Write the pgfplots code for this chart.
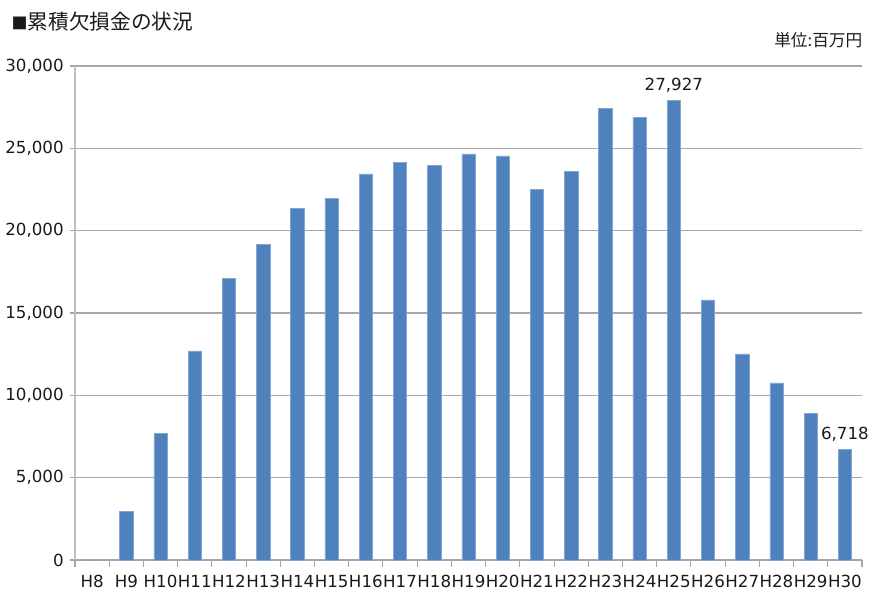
\documentclass[border=0pt]{standalone}
\usepackage{fontspec}
\setmainfont{DejaVu Sans}
\newfontfamily\cjk{Noto Sans CJK JP}
\usepackage{pgfplots}
\pgfplotsset{compat=1.18}
\definecolor{barblue}{HTML}{4F81BD}
\definecolor{gridgray}{HTML}{A6A6A6}
\definecolor{axisgray}{HTML}{BFBFBF}
\definecolor{txt}{HTML}{1A1A1A}
\begin{document}
\begin{tikzpicture}[x=1pt,y=1pt]
\path[use as bounding box] (-56.25,-25.5) rectangle (597,420);
\begin{axis}[
  at={(0,0)}, anchor=south west,
  scale only axis,
  width=590.25pt, height=370.5pt,
  xmin=-0.5, xmax=22.5,
  ymin=0, ymax=30000,
  ytick={0,5000,...,30000},
  ymajorgrids,
  grid style={gridgray, line width=0.8pt},
  axis line style={axisgray, line width=0.8pt},
  x axis line style={gridgray},
  axis x line*=bottom, axis y line*=left,
  xtick={0,...,22},
  xticklabels={H8,H9,H10,H11,H12,H13,H14,H15,H16,H17,H18,H19,H20,H21,H22,H23,H24,H25,H26,H27,H28,H29,H30},
  minor xtick={-0.5,0.5,...,22.5},
  major x tick style={draw=none},
  minor x tick style={gridgray, line width=0.8pt},
  minor tick length=5pt,
  ytick style={gridgray, line width=0.8pt},
  major tick length=4pt,
  tick align=outside,
  /pgf/number format/assume math mode=true,
  scaled y ticks=false,
  yticklabel={\pgfmathprintnumber[fixed,1000 sep={,}]{\tick}},
  tick label style={font=\fontsize{12.5}{14}\selectfont, text=txt},
  xticklabel style={yshift=-4pt},
  yticklabel style={xshift=-1pt},
  ybar, bar width=10pt,
  nodes near coords={\pgfplotspointmeta},
  point meta=explicit symbolic,
  nodes near coords style={font=\fontsize{12.5}{14}\selectfont, text=txt, yshift=2.5pt},
  clip=false,
]
\addplot[fill=barblue, draw=barblue!70!white, line width=0.4pt] coordinates {
(0,0) [{}]
(1,2950) [{}]
(2,7680) [{}]
(3,12700) [{}]
(4,17100) [{}]
(5,19150) [{}]
(6,21370) [{}]
(7,21980) [{}]
(8,23450) [{}]
(9,24170) [{}]
(10,23970) [{}]
(11,24660) [{}]
(12,24540) [{}]
(13,22520) [{}]
(14,23620) [{}]
(15,27440) [{}]
(16,26900) [{}]
(17,27927) [{27,927}]
(18,15800) [{}]
(19,12520) [{}]
(20,10760) [{}]
(21,8900) [{}]
(22,6718) [{6,718}]
};
\end{axis}
\node[anchor=west, font=\cjk\fontsize{15.5}{18}\selectfont, text=txt] at (-51,403.5) {{\fontsize{12}{14}\selectfont ■}累積欠損金の状況};
\node[anchor=east, font=\cjk\fontsize{12.5}{15}\selectfont, text=txt] at (594,390) {単位:百万円};
\end{tikzpicture}
\end{document}
